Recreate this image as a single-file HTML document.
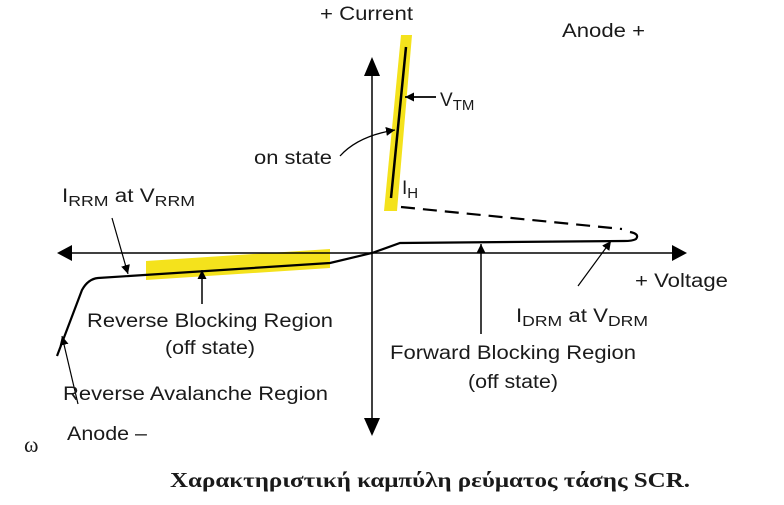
<!DOCTYPE html>
<html><head><meta charset="utf-8"><style>
html,body{margin:0;padding:0;background:#fff;}
svg{display:block;}
text{font-family:"Liberation Sans",sans-serif;font-size:19px;fill:#1a1a1a;}
.s{font-size:15px;}
</style></head><body>
<svg width="784" height="505" viewBox="0 0 784 505" xmlns="http://www.w3.org/2000/svg">
<defs>
<marker id="a" viewBox="0 0 10 10" refX="10" refY="5" markerWidth="9" markerHeight="9" orient="auto-start-reverse" markerUnits="userSpaceOnUse"><path d="M0,0 L10,5 L0,10z" fill="#000"/></marker>
</defs>
<polygon points="401,35 412,35 397,211 384,211" fill="#f4e21c"/>
<polygon points="146,261 330,249 330,268 146,280" fill="#f4e21c"/>
<line x1="60" y1="253" x2="684" y2="253" stroke="#000" stroke-width="1.5"/>
<polygon points="57,253 72,245 72,261" fill="#000"/>
<polygon points="687,253 672,245 672,261" fill="#000"/>
<line x1="372" y1="70" x2="372" y2="420" stroke="#000" stroke-width="1.5"/>
<polygon points="372,57 364,76 380,76" fill="#000"/>
<polygon points="372,436 364,418 380,418" fill="#000"/>
<line x1="406" y1="47" x2="391" y2="198" stroke="#000" stroke-width="2.5"/>
<path d="M401,207 L622,229" stroke="#000" stroke-width="2.2" stroke-dasharray="14,8" fill="none"/>
<path d="M630,232 Q640,234 636,239 Q633,241 624,241 L400,243 L372,253 L330,263 L98,278 Q88,279 82,290 L57,356" stroke="#000" stroke-width="2.2" fill="none"/>
<line x1="436" y1="97" x2="405" y2="97" stroke="#000" stroke-width="1.8" marker-end="url(#a)"/>
<path d="M340,156 Q358,136 395,130" stroke="#000" stroke-width="1.3" fill="none" marker-end="url(#a)"/>
<line x1="112" y1="218" x2="128" y2="274" stroke="#000" stroke-width="1.2" marker-end="url(#a)"/>
<line x1="202" y1="304" x2="202" y2="270" stroke="#000" stroke-width="1.5" marker-end="url(#a)"/>
<line x1="481" y1="334" x2="481" y2="244" stroke="#000" stroke-width="1.5" marker-end="url(#a)"/>
<line x1="578" y1="286" x2="611" y2="241" stroke="#000" stroke-width="1.2" marker-end="url(#a)"/>
<line x1="78" y1="404" x2="62" y2="336" stroke="#000" stroke-width="1.2" marker-end="url(#a)"/>
<text x="320" y="20" textLength="93" lengthAdjust="spacingAndGlyphs">+ Current</text>
<text x="562" y="37" textLength="83" lengthAdjust="spacingAndGlyphs">Anode +</text>
<text x="440" y="106">V<tspan class="s" dy="4">TM</tspan></text>
<text x="254" y="164" textLength="78" lengthAdjust="spacingAndGlyphs">on state</text>
<text x="402" y="194">I<tspan class="s" dy="4">H</tspan></text>
<text x="62" y="202" textLength="133" lengthAdjust="spacingAndGlyphs">I<tspan class="s" dy="4">RRM</tspan><tspan dy="-4"> at V</tspan><tspan class="s" dy="4">RRM</tspan></text>
<text x="635" y="287" textLength="93" lengthAdjust="spacingAndGlyphs">+ Voltage</text>
<text x="87" y="327" textLength="246" lengthAdjust="spacingAndGlyphs">Reverse Blocking Region</text>
<text x="165" y="354" textLength="90" lengthAdjust="spacingAndGlyphs">(off state)</text>
<text x="516" y="322" textLength="132" lengthAdjust="spacingAndGlyphs">I<tspan class="s" dy="4">DRM</tspan><tspan dy="-4"> at V</tspan><tspan class="s" dy="4">DRM</tspan></text>
<text x="390" y="359" textLength="246" lengthAdjust="spacingAndGlyphs">Forward Blocking Region</text>
<text x="468" y="388" textLength="90" lengthAdjust="spacingAndGlyphs">(off state)</text>
<text x="63" y="400" textLength="265" lengthAdjust="spacingAndGlyphs">Reverse Avalanche Region</text>
<text x="67" y="440" textLength="80" lengthAdjust="spacingAndGlyphs">Anode –</text>
<text x="24" y="452" style="font-family:'Liberation Serif',serif;font-size:22px">ω</text>
<text x="170" y="487" textLength="520" lengthAdjust="spacingAndGlyphs" style="font-family:'Liberation Serif',serif;font-size:21px;font-weight:bold">Χαρακτηριστική καμπύλη ρεύματος τάσης SCR.</text>
</svg>
</body></html>
